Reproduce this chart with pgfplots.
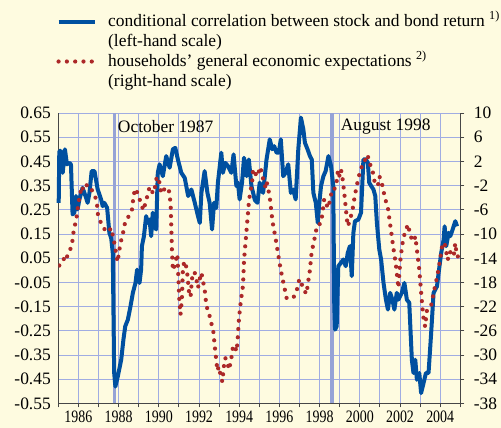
\documentclass[border=0pt]{standalone}
\usepackage{fontspec}
\setmainfont{Liberation Serif}
\usepackage{graphicx}
\usepackage{pgfplots}
\pgfplotsset{compat=1.18}
\definecolor{bg}{RGB}{254,251,224}
\definecolor{gridc}{RGB}{160,172,226}
\definecolor{evc}{RGB}{150,163,214}
\definecolor{blueline}{RGB}{0,80,160}
\definecolor{reddot}{RGB}{172,40,40}
\definecolor{axc}{RGB}{70,70,70}
\newcommand\sx[1]{\scalebox{0.8}[1]{#1}}
\newcommand\fs{\fontsize{17.5}{18.3}\selectfont}
\pgfplotsset{
  blueplot/.style={blueline, line width=4bp, line join=round},
  redplot/.style={reddot, line width=4.2bp, line cap=round, dash pattern=on 0bp off 8.3bp},
}
\begin{document}
\begin{tikzpicture}
\fill[bg] (0,0) rectangle (501bp,428bp);
\useasboundingbox (0,0) rectangle (501bp,428bp);
\begin{axis}[
  at={(58.3bp,24.5bp)}, anchor=south west,
  scale only axis, width=402bp, height=290.5bp,
  xmin=1985, xmax=2005, ymin=-0.55, ymax=0.65,
  axis x line*=bottom, axis y line*=left,
  axis line style={axc, line width=0.9bp, -},
  xtick={1986,1988,...,2004},
  minor xtick={1985,1987,...,2005},
  xticklabels={\sx{1986},\sx{1988},\sx{1990},\sx{1992},\sx{1994},\sx{1996},\sx{1998},\sx{2000},\sx{2002},\sx{2004}},
  ytick={-0.55,-0.45,-0.35,-0.25,-0.15,-0.05,0.05,0.15,0.25,0.35,0.45,0.55,0.65},
  yticklabels={-0.55,-0.45,-0.35,-0.25,-0.15,-0.05,0.05,0.15,0.25,0.35,0.45,0.55,0.65},
  grid=both,
  major grid style={gridc, line width=0.9bp},
  minor grid style={gridc, line width=0.9bp},
  tick align=outside,
  major tick length=4bp, minor tick length=4bp,
  xtick style={axc, line width=0.9bp},
  ytick style={draw=none},
  xticklabel style={font=\fs, yshift=-2bp, inner sep=1bp},
  yticklabel style={font=\fs},
  clip=false,
]
\addplot[evc, line width=3.5bp] coordinates {(1987.80,-0.55) (1987.80,0.65)};
\addplot[evc, line width=3.5bp] coordinates {(1998.62,-0.55) (1998.62,0.65)};
\node[anchor=west, inner sep=0pt, font=\fs] at (axis cs:1987.96,0.592) {October 1987};
\node[anchor=west, inner sep=0pt, font=\fs] at (axis cs:1999.05,0.592) {August 1998};
\addplot[blueplot] coordinates {
(1985.02,0.279) (1985.05,0.493) (1985.13,0.493) (1985.22,0.403) (1985.33,0.500)
(1985.43,0.438) (1985.55,0.444) (1985.63,0.438) (1985.71,0.231) (1985.80,0.238)
(1985.88,0.307) (1985.96,0.252) (1986.05,0.293) (1986.21,0.341) (1986.38,0.300)
(1986.46,0.279) (1986.55,0.320) (1986.66,0.410) (1986.80,0.410) (1986.96,0.334)
(1987.13,0.293) (1987.21,0.265) (1987.29,0.279) (1987.43,0.258) (1987.54,0.155)
(1987.63,0.134) (1987.71,0.072) (1987.78,-0.424) (1987.84,-0.480) (1987.96,-0.438)
(1988.13,-0.369) (1988.24,-0.286) (1988.33,-0.231) (1988.46,-0.204) (1988.59,-0.149)
(1988.71,-0.093) (1988.84,-0.052) (1988.92,0.003) (1989.04,-0.052) (1989.12,0.003)
(1989.16,0.100) (1989.26,0.141) (1989.37,0.224) (1989.46,0.196) (1989.54,0.210)
(1989.62,0.141) (1989.70,0.238) (1989.79,0.182) (1989.87,0.169) (1989.95,0.403)
(1990.04,0.438) (1990.20,0.389) (1990.37,0.472) (1990.54,0.424) (1990.70,0.500)
(1990.82,0.506) (1990.95,0.458) (1991.12,0.403) (1991.29,0.382) (1991.46,0.307)
(1991.62,0.334) (1991.79,0.279) (1991.95,0.224) (1992.04,0.196) (1992.12,0.320)
(1992.28,0.410) (1992.42,0.320) (1992.53,0.279) (1992.65,0.169) (1992.75,0.279)
(1992.86,0.258) (1992.94,0.362) (1993.11,0.486) (1993.19,0.403) (1993.31,0.444)
(1993.44,0.431) (1993.61,0.403) (1993.72,0.479) (1993.86,0.348) (1993.94,0.362)
(1994.02,0.293) (1994.14,0.362) (1994.24,0.465) (1994.37,0.389) (1994.48,0.458)
(1994.61,0.348) (1994.78,0.290) (1994.91,0.279) (1995.02,0.362) (1995.19,0.320)
(1995.36,0.458) (1995.52,0.541) (1995.64,0.500) (1995.74,0.513) (1995.86,0.486)
(1995.97,0.486) (1996.07,0.541) (1996.19,0.389) (1996.31,0.403) (1996.44,0.438)
(1996.57,0.320) (1996.69,0.334) (1996.81,0.293) (1996.94,0.500) (1997.07,0.631)
(1997.19,0.583) (1997.27,0.527) (1997.40,0.500) (1997.52,0.472) (1997.61,0.458)
(1997.69,0.320) (1997.81,0.279) (1997.91,0.196) (1997.97,0.265) (1998.07,0.348)
(1998.19,0.389) (1998.30,0.410) (1998.44,0.472) (1998.57,0.431) (1998.68,0.348)
(1998.73,-0.149) (1998.77,-0.245) (1998.85,-0.231) (1998.93,0.017) (1999.06,0.031)
(1999.18,0.045) (1999.30,0.017) (1999.40,0.072) (1999.51,0.100) (1999.60,-0.024)
(1999.68,0.155) (1999.76,0.203) (1999.93,0.210) (2000.06,0.238) (2000.18,0.458)
(2000.30,0.458) (2000.40,0.444) (2000.47,0.362) (2000.57,0.348) (2000.68,0.334)
(2000.77,0.307) (2000.85,0.196) (2000.97,0.086) (2001.06,0.045) (2001.18,-0.052)
(2001.30,-0.121) (2001.40,-0.162) (2001.51,-0.093) (2001.62,-0.121) (2001.72,-0.162)
(2001.84,-0.093) (2001.92,-0.121) (2002.09,-0.093) (2002.22,-0.052) (2002.34,-0.121)
(2002.46,-0.134) (2002.59,-0.369) (2002.67,-0.424) (2002.76,-0.369) (2002.84,-0.452)
(2002.96,-0.424) (2003.05,-0.507) (2003.17,-0.466) (2003.29,-0.424) (2003.42,-0.424)
(2003.55,-0.259) (2003.67,-0.093) (2003.84,-0.066) (2003.92,-0.011) (2004.05,0.072)
(2004.17,0.127) (2004.22,0.182) (2004.30,0.100) (2004.42,0.155) (2004.50,0.141)
(2004.62,0.169) (2004.75,0.203) (2004.84,0.182)
};
\end{axis}
\begin{axis}[
  at={(58.3bp,24.5bp)}, anchor=south west,
  scale only axis, width=402bp, height=290.5bp,
  xmin=1985, xmax=2005, ymin=-38, ymax=10,
  axis x line=none, axis y line*=right,
  axis line style={axc, line width=0.9bp, -},
  ytick={-38,-34,...,10},
  yticklabels={-38,-34,-30,-26,-22,-18,-14,-10,-6,-2,2,6,10},
  tick align=outside, major tick length=4bp,
  ytick style={axc, line width=0.9bp},
  yticklabel style={font=\fs, anchor=west, xshift=6bp},
  legend style={draw=none, fill=none, at={(axis description cs:-0.005,1.35)}, anchor=north west,
    inner sep=0pt, row sep=0pt, font=\fs,
    nodes={inner sep=1.5bp, text height=13bp, text depth=4bp}},
  legend cell align=left,
  legend image code/.code={\draw[#1] (0bp,0bp) -- (36bp,0bp); \path (46bp,0bp);},
]
\addlegendimage{blueplot}
\addlegendentry{conditional correlation between stock and bond return \textsuperscript{1)}}
\addlegendimage{empty legend}
\addlegendentry{(left-hand scale)}
\addplot[redplot] coordinates {
(1985.05,-15.2) (1985.16,-14.8) (1985.26,-14.1) (1985.40,-14.5) (1985.46,-13.3)
(1985.63,-12.3) (1985.71,-11.0) (1985.76,-9.6) (1985.83,-8.5) (1985.91,-7.3)
(1985.96,-5.9) (1986.01,-4.7) (1986.10,-3.2) (1986.16,-2.1) (1986.26,-2.8)
(1986.35,-2.1) (1986.43,-1.9) (1986.51,-2.0) (1986.60,-2.1) (1986.71,-3.1)
(1986.83,-3.7) (1986.93,-5.2) (1986.96,-6.6) (1987.09,-7.9) (1987.24,-9.0)
(1987.46,-9.7) (1987.54,-9.4) (1987.63,-9.0) (1987.71,-10.2) (1987.79,-11.5)
(1987.84,-12.4) (1987.89,-13.7) (1987.96,-14.6) (1988.01,-13.1) (1988.08,-11.9)
(1988.16,-10.5) (1988.26,-9.3) (1988.33,-7.9) (1988.46,-7.3) (1988.66,-6.1)
(1988.71,-4.7) (1988.76,-3.4) (1988.84,-2.5) (1988.99,-3.6) (1989.12,-5.1)
(1989.24,-6.1) (1989.34,-4.8) (1989.45,-3.5) (1989.54,-2.2) (1989.72,-3.3)
(1989.82,-2.1) (1989.89,-0.7) (1989.99,-0.6) (1990.05,-2.0) (1990.12,-3.1)
(1990.20,-3.3) (1990.29,-2.4) (1990.37,-2.3) (1990.49,-2.6) (1990.54,-3.6)
(1990.59,-5.1) (1990.65,-12.3) (1990.70,-16.0) (1990.82,-14.8) (1990.92,-13.3)
(1990.95,-15.3) (1991.02,-20.8) (1991.08,-23.3) (1991.15,-20.7) (1991.20,-15.8)
(1991.25,-14.8) (1991.32,-14.5) (1991.42,-16.7) (1991.50,-19.5) (1991.58,-20.4)
(1991.65,-17.5) (1991.70,-16.4) (1991.78,-16.3) (1991.87,-17.5) (1991.95,-18.9)
(1992.03,-17.5) (1992.12,-16.4) (1992.20,-17.8) (1992.28,-19.1) (1992.37,-21.9)
(1992.50,-23.1) (1992.58,-24.4) (1992.70,-25.7) (1992.78,-28.4) (1992.87,-31.2)
(1992.92,-32.6) (1992.98,-31.9) (1993.06,-33.1) (1993.16,-34.4) (1993.24,-31.8)
(1993.31,-30.5) (1993.41,-31.0) (1993.48,-32.4) (1993.58,-31.2) (1993.69,-28.6)
(1993.78,-28.4) (1993.86,-29.4) (1993.91,-28.1) (1993.99,-23.9) (1994.08,-21.1)
(1994.19,-18.5) (1994.24,-14.3) (1994.31,-11.6) (1994.38,-8.8) (1994.48,-4.8)
(1994.53,-3.5) (1994.64,-1.5) (1994.69,0.7) (1994.78,0.1) (1994.91,-0.5)
(1995.04,1.1) (1995.16,-0.3) (1995.22,-1.6) (1995.31,-2.2) (1995.36,-1.3)
(1995.44,-2.5) (1995.52,-3.9) (1995.66,-8.0) (1995.81,-10.7) (1995.94,-13.4)
(1996.07,-16.0) (1996.24,-18.7) (1996.36,-20.6) (1996.44,-20.7) (1996.56,-20.7)
(1996.74,-20.3) (1996.90,-18.9) (1996.98,-17.6) (1997.07,-17.5) (1997.15,-18.9)
(1997.35,-19.9) (1997.40,-18.6) (1997.52,-15.9) (1997.60,-13.1) (1997.77,-10.4)
(1997.88,-8.5) (1998.05,-8.3) (1998.13,-6.9) (1998.23,-4.2) (1998.35,-5.2)
(1998.43,-5.7) (1998.52,-4.4) (1998.63,-2.5) (1998.77,-2.5) (1998.85,-1.3)
(1998.90,0.2) (1998.96,-0.7) (1999.06,0.7) (1999.13,-0.5) (1999.23,-3.3)
(1999.35,-7.3) (1999.40,-8.7) (1999.46,-8.2) (1999.63,-6.2) (1999.76,-3.5)
(1999.93,-0.7) (2000.13,1.5) (2000.23,1.8) (2000.31,3.0) (2000.40,3.0)
(2000.46,1.7) (2000.60,1.1) (2000.76,-1.8) (2000.90,-2.0) (2000.98,-0.5)
(2001.09,-1.5) (2001.26,-4.2) (2001.39,-5.5) (2001.56,-9.6) (2001.67,-12.3)
(2001.79,-14.9) (2001.92,-18.9) (2002.01,-14.6) (2002.06,-13.1) (2002.17,-10.6)
(2002.29,-9.4) (2002.39,-8.4) (2002.51,-10.1) (2002.62,-11.2) (2002.72,-10.9)
(2002.76,-10.4) (2002.81,-11.7) (2002.96,-15.9) (2003.06,-20.0) (2003.15,-23.5)
(2003.25,-25.3) (2003.34,-22.6) (2003.45,-22.4) (2003.55,-21.8) (2003.70,-19.3)
(2003.87,-16.7) (2004.00,-14.1) (2004.12,-11.5) (2004.22,-11.5) (2004.30,-13.0)
(2004.38,-14.3) (2004.42,-13.0) (2004.50,-13.0) (2004.67,-13.7) (2004.75,-11.5)
(2004.83,-13.7) (2004.96,-13.7)
};
\addlegendentry{households’ general economic expectations \textsuperscript{2)}}
\addlegendimage{empty legend}
\addlegendentry{(right-hand scale)}
\end{axis}
\end{tikzpicture}
\end{document}
